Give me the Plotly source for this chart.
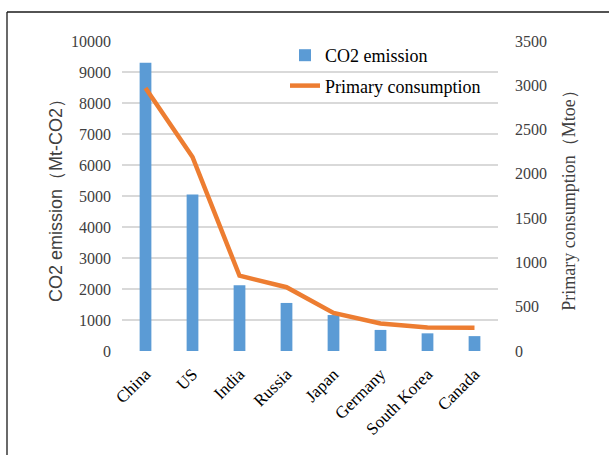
import plotly.graph_objects as go

# Data
countries = ["China", "US", "India", "Russia", "Japan", "Germany", "South Korea", "Canada"]
co2_emission = [9300, 5050, 2120, 1550, 1160, 680, 570, 480]          # Mt-CO2
primary_consumption = [2970, 2190, 850, 720, 430, 310, 265, 262]      # Mtoe

left_ticks = [0, 1000, 2000, 3000, 4000, 5000, 6000, 7000, 8000, 9000, 10000]
right_ticks = [0, 500, 1000, 1500, 2000, 2500, 3000, 3500]

BLUE = "#5B9BD5"
ORANGE = "#ED7D31"
GRID = "#D9D9D9"
SERIF = "Liberation Serif"
SANS = "Liberation Sans"
TEXT = "#404040"

W, H = 609, 455
ML, MR, MT, MB = 122, 111, 41, 104
PW = W - ML - MR
PH = H - MT - MB

fig = go.Figure()

fig.add_trace(go.Bar(
    x=countries, y=co2_emission, name="CO2 emission",
    marker=dict(color=BLUE, line=dict(width=0)),
    legendgroup="a",
))
fig.add_trace(go.Scatter(
    x=countries, y=primary_consumption, name="Primary consumption",
    yaxis="y2", mode="lines",
    line=dict(color=ORANGE, width=4.5, shape="linear"),
    legendgroup="b",
))

def px_x(px):
    return (px - ML) / PW

def px_y(py):
    return (H - MB - py) / PH

# outer frame (top and left edges visible)
frame = [
    dict(type="line", xref="paper", yref="paper",
         x0=px_x(7), x1=px_x(W + 10), y0=px_y(12), y1=px_y(12),
         line=dict(color="#1a1a1a", width=1.3)),
    dict(type="line", xref="paper", yref="paper",
         x0=px_x(7), x1=px_x(7), y0=px_y(12), y1=px_y(H + 10),
         line=dict(color="#1a1a1a", width=1.3)),
]

fig.update_layout(
    width=W, height=H,
    margin=dict(l=ML, r=MR, t=MT, b=MB),
    paper_bgcolor="white", plot_bgcolor="white",
    bargap=0.75,
    showlegend=True,
    legend=dict(
        x=px_x(285), y=px_y(37), xanchor="left", yanchor="top",
        bgcolor="rgba(255,255,255,0)",
        font=dict(family=SERIF, size=18, color="black"),
        tracegroupgap=4,
        itemwidth=30,
    ),
    xaxis=dict(
        tickmode="array", tickvals=countries, ticktext=countries,
        tickangle=-45, tickfont=dict(family=SERIF, size=17, color="black"),
        showgrid=False, showline=False, zeroline=False, ticks="",
        ticklabelstandoff=9,
    ),
    yaxis=dict(
        range=[0, 10000], tickvals=left_ticks,
        ticktext=[str(v) for v in left_ticks],
        tickfont=dict(family=SERIF, size=16, color=TEXT),
        showgrid=True, gridcolor=GRID, gridwidth=1.5,
        zeroline=False, showline=False, ticks="",
        ticklabelstandoff=10,
        title=dict(text="CO2 emission（Mt-CO2）",
                   font=dict(family=SANS, size=18, color=TEXT),
                   standoff=3),
    ),
    yaxis2=dict(
        range=[0, 3500], tickvals=right_ticks,
        ticktext=[str(v) for v in right_ticks],
        overlaying="y", side="right",
        tickfont=dict(family=SERIF, size=16, color=TEXT),
        showgrid=False, zeroline=False, showline=False, ticks="",
        ticklabelstandoff=16,
        title=dict(text="Primary consumption（Mtoe）",
                   font=dict(family=SERIF, size=18, color=TEXT),
                   standoff=16),
    ),
    shapes=frame,
)

fig.write_html("out.html")
